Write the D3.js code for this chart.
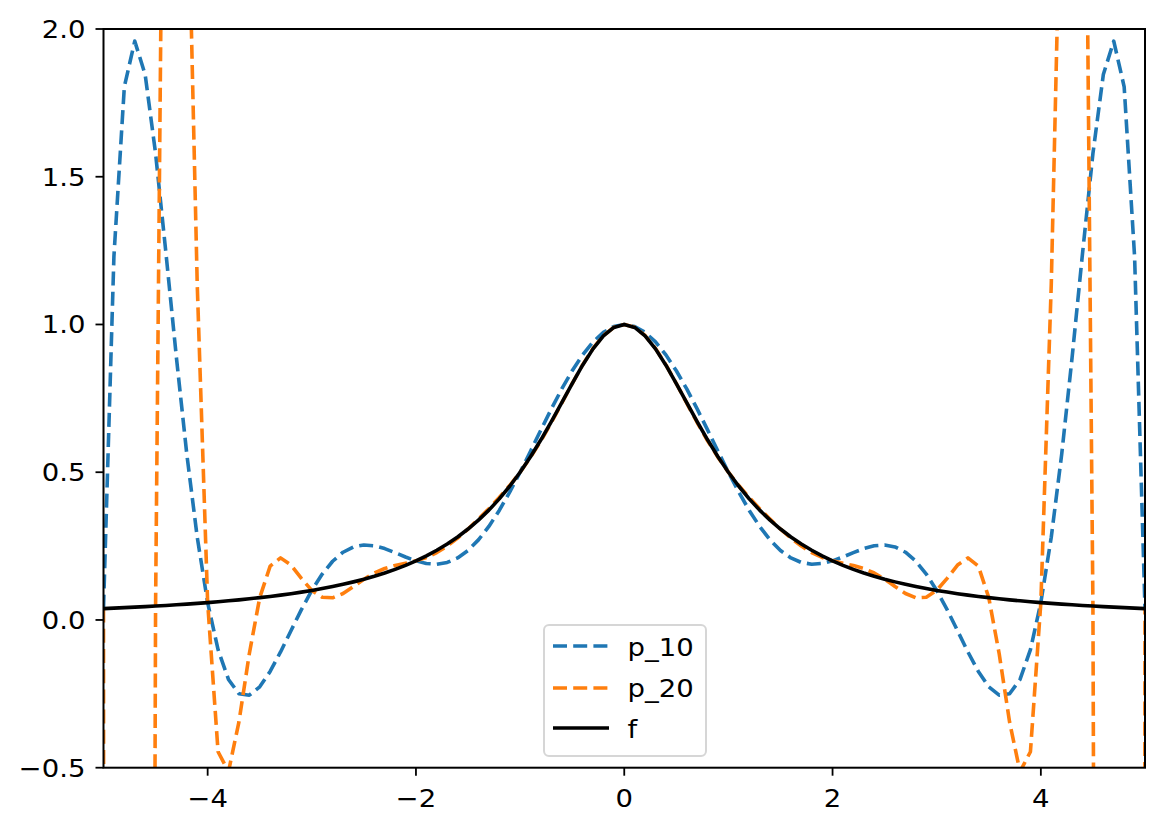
<!DOCTYPE html>
<html><head><meta charset="utf-8">
<script src="https://cdn.jsdelivr.net/npm/d3@7"></script>
<style>body{margin:0;background:#fff} text{font-family:"DejaVu Sans",sans-serif;fill:#000}</style>
</head><body><svg id="c" width="1164" height="833"></svg>
<script>
const xValues=[-5,-4.9,-4.8,-4.7,-4.6,-4.5,-4.4,-4.3,-4.2,-4.1,-4,-3.9,-3.8,-3.7,-3.6,-3.5,-3.4,-3.3,-3.2,-3.1,-3,-2.9,-2.8,-2.7,-2.6,-2.5,-2.4,-2.3,-2.2,-2.1,-2,-1.9,-1.8,-1.7,-1.6,-1.5,-1.4,-1.3,-1.2,-1.1,-1,-0.9,-0.8,-0.7,-0.6,-0.5,-0.4,-0.3,-0.2,-0.1,0,0.1,0.2,0.3,0.4,0.5,0.6,0.7,0.8,0.9,1,1.1,1.2,1.3,1.4,1.5,1.6,1.7,1.8,1.9,2,2.1,2.2,2.3,2.4,2.5,2.6,2.7,2.8,2.9,3,3.1,3.2,3.3,3.4,3.5,3.6,3.7,3.8,3.9,4,4.1,4.2,4.3,4.4,4.5,4.6,4.7,4.8,4.9,5];
const p10=[0.0385,1.2303,1.8044,1.9590,1.8459,1.5787,1.2402,0.8881,0.5604,0.2802,0.0588,-0.1007,-0.2013,-0.2496,-0.2546,-0.2262,-0.1743,-0.1083,-0.0363,0.0349,0.1,0.1554,0.1987,0.2292,0.2472,0.2538,0.2510,0.2415,0.2278,0.2131,0.2,0.1912,0.1888,0.1946,0.2099,0.2353,0.2710,0.3165,0.3708,0.4326,0.5,0.5710,0.6432,0.7142,0.7818,0.8434,0.8971,0.9409,0.9734,0.9933,1.0,
0.9933,0.9734,0.9409,0.8971,0.8434,0.7818,0.7142,0.6432,0.5710,0.5,0.4326,0.3708,0.3165,0.2710,0.2353,0.2099,0.1946,0.1888,0.1912,0.2,0.2131,0.2278,0.2415,0.2510,0.2538,0.2472,0.2292,0.1987,0.1554,0.1,0.0349,-0.0363,-0.1083,-0.1743,-0.2262,-0.2546,-0.2496,-0.2013,-0.1007,0.0588,0.2802,0.5604,0.8881,1.2402,1.5787,1.8459,1.9590,1.8044,1.2303,0.0385];
const p20=[0.0385,-58.238,-50.862,-28.663,-10.335,0.0471,3.9450,4.0691,2.6743,1.1353,0.0588,-0.4459,-0.5135,-0.3459,-0.1144,0.0755,0.1823,0.2101,0.1858,0.1408,0.1,0.0770,0.0750,0.0896,0.1130,0.1379,0.1590,0.1742,0.1843,0.1918,0.2,0.2115,0.2281,0.2501,0.2770,0.3077,0.3411,0.3766,0.4143,0.4550,0.5,0.5503,0.6065,0.6682,0.7337,0.8,0.8632,0.9189,0.9626,0.9904,1.0,
0.9904,0.9626,0.9189,0.8632,0.8,0.7337,0.6682,0.6065,0.5503,0.5,0.4550,0.4143,0.3766,0.3411,0.3077,0.2770,0.2501,0.2281,0.2115,0.2,0.1918,0.1843,0.1742,0.1590,0.1379,0.1130,0.0896,0.0750,0.0770,0.1,0.1408,0.1858,0.2101,0.1823,0.0755,-0.1144,-0.3459,-0.5135,-0.4459,0.0588,1.1353,2.6743,4.0691,3.9450,0.0471,-10.335,-28.663,-50.862,-58.238,0.0385];
const fValues=[0.0385,0.0400,0.0416,0.0433,0.0451,0.0471,0.0491,0.0513,0.0536,0.0561,0.0588,0.0617,0.0648,0.0681,0.0716,0.0755,0.0796,0.0841,0.0890,0.0943,0.1,0.1063,0.1131,0.1206,0.1289,0.1379,0.1479,0.1590,0.1712,0.1848,0.2,0.2169,0.2358,0.2571,0.2809,0.3077,0.3378,0.3717,0.4098,0.4525,0.5,0.5525,0.6098,0.6711,0.7353,0.8,0.8621,0.9174,0.9615,0.9901,1.0,
0.9901,0.9615,0.9174,0.8621,0.8,0.7353,0.6711,0.6098,0.5525,0.5,0.4525,0.4098,0.3717,0.3378,0.3077,0.2809,0.2571,0.2358,0.2169,0.2,0.1848,0.1712,0.1590,0.1479,0.1379,0.1289,0.1206,0.1131,0.1063,0.1,0.0943,0.0890,0.0841,0.0796,0.0755,0.0716,0.0681,0.0648,0.0617,0.0588,0.0561,0.0536,0.0513,0.0491,0.0471,0.0451,0.0433,0.0416,0.0400,0.0385];
const xTicks=[-4,-2,0,2,4];
const yTicks=[-0.5,0,0.5,1,1.5,2];
const seriesNames=["p_10","p_20","f"];

const svg=d3.select("#c");
const L=103.5,R=1145,T=29,B=767.7;
const x=d3.scaleLinear().domain([-5,5]).range([L,R]);
const y=d3.scaleLinear().domain([-0.5,2]).range([B,T]);
const FS=25, SX=1.1, LW=3.6;

svg.append("defs").append("clipPath").attr("id","clip").append("rect")
  .attr("x",L).attr("y",T).attr("width",R-L).attr("height",B-T);

const series=[
  {name:seriesNames[0],vals:p10,color:"#1f77b4",dash:"14,6.2"},
  {name:seriesNames[1],vals:p20,color:"#ff7f0e",dash:"14,6.2"},
  {name:seriesNames[2],vals:fValues,color:"#000000",dash:null}
];
const line=d3.line().x((d,i)=>x(xValues[i])).y(d=>y(d));
const g=svg.append("g").attr("clip-path","url(#clip)");
series.forEach(s=>{
  g.append("path").attr("d",line(s.vals)).attr("fill","none")
   .attr("stroke",s.color).attr("stroke-width",LW)
   .attr("stroke-linejoin","round")
   .attr("stroke-dasharray",s.dash);
});

// axes
const fmtY=d3.format(".1f"), fmtX=d3.format("d");
xTicks.forEach(t=>{
  svg.append("line").attr("x1",x(t)).attr("x2",x(t)).attr("y1",B).attr("y2",B+8).attr("stroke","#000").attr("stroke-width",1.8);
  svg.append("g").attr("transform",`translate(${x(t)},807) scale(${SX},1)`)
    .append("text").attr("text-anchor","middle").attr("font-size",FS).text(fmtX(t));
});
yTicks.forEach(t=>{
  svg.append("line").attr("x1",L-8).attr("x2",L).attr("y1",y(t)).attr("y2",y(t)).attr("stroke","#000").attr("stroke-width",1.8);
  svg.append("g").attr("transform",`translate(85.5,${y(t)+9}) scale(${SX},1)`)
    .append("text").attr("text-anchor","end").attr("font-size",FS).text(fmtY(t));
});
svg.append("rect").attr("x",L).attr("y",T).attr("width",R-L).attr("height",B-T)
  .attr("fill","none").attr("stroke","#000").attr("stroke-width",2);

// legend
const lg=svg.append("g");
lg.append("rect").attr("x",544).attr("y",625).attr("width",162).attr("height",131).attr("rx",5)
  .attr("fill","#fff").attr("fill-opacity",0.8).attr("stroke","#cccccc").attr("stroke-opacity",0.8).attr("stroke-width",2);
const rowsLine=[646,688,728], rowsText=[656,697,738];
series.forEach((s,i)=>{
  lg.append("line").attr("x1",553).attr("x2",609).attr("y1",rowsLine[i]).attr("y2",rowsLine[i])
    .attr("stroke",s.color).attr("stroke-width",LW).attr("stroke-dasharray",s.dash);
  lg.append("g").attr("transform",`translate(627.5,${rowsText[i]}) scale(${SX},1)`)
    .append("text").attr("font-size",FS).text(s.name);
});
</script></body></html>
